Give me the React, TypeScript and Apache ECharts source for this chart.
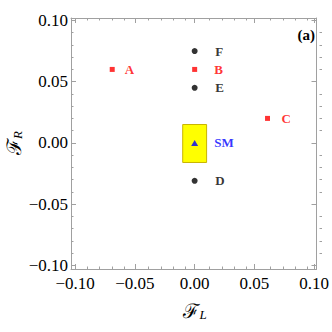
import React, { useEffect, useRef } from "react";
import * as echarts from "echarts";

// ---- data ----
const redNames = ["A", "B", "C"];
const redX = [-0.069, 0.0, 0.061];
const redY = [0.06, 0.06, 0.02];

const blackNames = ["F", "E", "D"];
const blackX = [0.0, 0.0, 0.0];
const blackY = [0.075, 0.045, -0.031];

const smNames = ["SM"];
const smX = [0.0];
const smY = [0.0];

// SM box: [xLow, xHigh, yLow, yHigh]
const smBoxX = [-0.01, 0.01];
const smBoxY = [-0.016, 0.015];

const majorTicks = [-0.1, -0.05, 0, 0.05, 0.1];
const majorTickLabels = ["\u22120.10", "\u22120.05", "0.00", "0.05", "0.10"];
const minorTicks = [
  -0.09, -0.08, -0.07, -0.06, -0.04, -0.03, -0.02, -0.01,
  0.01, 0.02, 0.03, 0.04, 0.06, 0.07, 0.08, 0.09,
];

const xRange = [-0.1035, 0.102];
const yRange = [-0.103, 0.102];

const panelLabel = "(a)";

// ---- styles ----
const FRAME = "#a0a0a0";
const SERIF = "'Liberation Serif', 'DejaVu Serif', serif";
const labelGap: Record<string, number> = { A: 10, B: 17, C: 11.5, F: 17.5, E: 17.5, D: 17.5, SM: 16 };

const fmtMajor = (v: number) => {
  const i = majorTicks.findIndex((t) => Math.abs(t - v) < 1e-9);
  return i >= 0 ? majorTickLabels[i] : "";
};

export default function App() {
  const ref = useRef<HTMLDivElement>(null);
  useEffect(() => {
    if (!ref.current) return;
    const chart = echarts.init(ref.current, null, { renderer: "svg" });

    const grid = { left: 71, right: 10, top: 18, bottom: 63 };

    const mkX = (gridIndex: number, position: string, major: boolean, labels: boolean) => ({
      type: "value",
      gridIndex,
      position,
      min: xRange[0],
      max: xRange[1],
      axisLine: { show: major, onZero: false, lineStyle: { color: FRAME, width: 1 } },
      axisTick: {
        show: true,
        inside: true,
        length: major ? 5 : 2.5,
        customValues: major ? majorTicks : minorTicks,
        lineStyle: { color: FRAME, width: 1 },
      },
      axisLabel: labels
        ? {
            show: true,
            customValues: majorTicks,
            formatter: fmtMajor,
            margin: 6,
            color: "#000",
            fontSize: 17,
            fontFamily: SERIF,
          }
        : { show: false },
      splitLine: { show: false },
    });
    const mkY = (gridIndex: number, position: string, major: boolean, labels: boolean) => ({
      type: "value",
      gridIndex,
      position,
      min: yRange[0],
      max: yRange[1],
      axisLine: { show: major, onZero: false, lineStyle: { color: FRAME, width: 1 } },
      axisTick: {
        show: true,
        inside: true,
        length: major ? 5 : 2.5,
        customValues: major ? majorTicks : minorTicks,
        lineStyle: { color: FRAME, width: 1 },
      },
      axisLabel: labels
        ? {
            show: true,
            customValues: majorTicks,
            formatter: fmtMajor,
            margin: 3,
            color: "#000",
            fontSize: 17,
            fontFamily: SERIF,
          }
        : { show: false },
      splitLine: { show: false },
    });

    const ptLabel = (color: string) => ({
      show: true,
      position: "right",
      formatter: "{b}",
      color,
      fontSize: 13,
      fontWeight: "bold",
      fontFamily: SERIF,
    });

    const mkData = (names: string[], xs: number[], ys: number[]) =>
      names.map((n, i) => ({ name: n, value: [xs[i], ys[i]], label: { distance: labelGap[n] } }));

    chart.setOption({
      animation: false,
      backgroundColor: "#ffffff",
      grid: [grid, grid],
      xAxis: [mkX(0, "bottom", true, true), mkX(0, "top", true, false), mkX(1, "bottom", false, false), mkX(1, "top", false, false)],
      yAxis: [mkY(0, "left", true, true), mkY(0, "right", true, false), mkY(1, "left", false, false), mkY(1, "right", false, false)],
      series: [
        {
          type: "scatter",
          xAxisIndex: 0,
          yAxisIndex: 0,
          z: 1,
          symbolSize: 0,
          data: [],
          markArea: {
            silent: true,
            label: { show: false },
            itemStyle: { color: "#ffff00", borderColor: "#c8b400", borderWidth: 1, opacity: 1 },
            data: [[{ coord: [smBoxX[0], smBoxY[1]] }, { coord: [smBoxX[1], smBoxY[0]] }]],
          },
        },
        {
          type: "scatter",
          xAxisIndex: 0,
          yAxisIndex: 0,
          z: 3,
          symbol: "rect",
          symbolSize: 5,
          itemStyle: { color: "#ff0000" },
          label: ptLabel("#ff0000"),
          data: mkData(redNames, redX, redY),
        },
        {
          type: "scatter",
          xAxisIndex: 0,
          yAxisIndex: 0,
          z: 3,
          symbol: "circle",
          symbolSize: 6,
          itemStyle: { color: "#000000" },
          label: ptLabel("#000000"),
          data: mkData(blackNames, blackX, blackY),
        },
        {
          type: "scatter",
          xAxisIndex: 0,
          yAxisIndex: 0,
          z: 3,
          symbol: "triangle",
          symbolSize: [7, 6],
          itemStyle: { color: "#0000ff" },
          label: ptLabel("#0000ff"),
          data: mkData(smNames, smX, smY),
        },
      ],
      graphic: [
        {
          type: "text",
          x: 195,
          y: 311,
          style: {
            text: "{a|\u2131}{b|L}",
            align: "center",
            verticalAlign: "middle",
            rich: {
              a: { fontSize: 20, fontFamily: SERIF, fill: "#000" },
              b: { fontSize: 13, fontStyle: "italic", fontFamily: SERIF, fill: "#000", padding: [6, 0, 0, 0] },
            },
          },
        },
        {
          type: "text",
          x: 14,
          y: 143,
          rotation: Math.PI / 2,
          style: {
            text: "{a|\u2131}{b|R}",
            align: "center",
            verticalAlign: "middle",
            rich: {
              a: { fontSize: 20, fontFamily: SERIF, fill: "#000" },
              b: { fontSize: 13, fontStyle: "italic", fontFamily: SERIF, fill: "#000", padding: [6, 0, 0, 0] },
            },
          },
        },
        {
          type: "text",
          x: 315,
          y: 35,
          style: {
            text: panelLabel,
            align: "right",
            verticalAlign: "middle",
            fontSize: 15,
            fontWeight: "bold",
            fontFamily: SERIF,
            fill: "#000",
          },
        },
      ],
    });
    return () => chart.dispose();
  }, []);
  return (
    <div
      ref={ref}
      style={{ position: "fixed", left: 0, top: 0, width: 332, height: 332, background: "#fff" }}
    />
  );
}
